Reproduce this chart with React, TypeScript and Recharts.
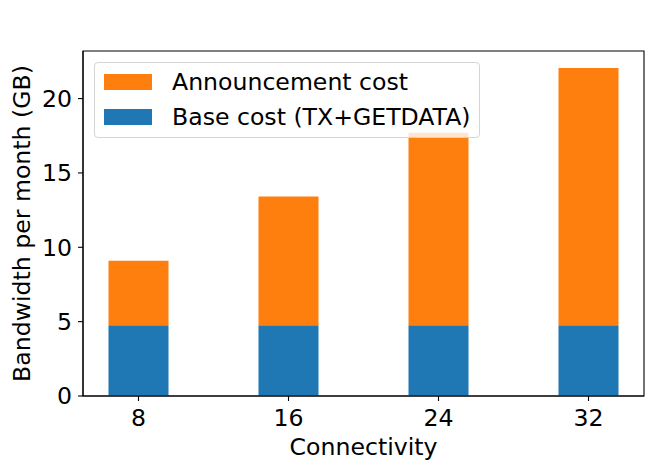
import React from 'react';
import {
  BarChart, Bar, XAxis, YAxis, Legend, ReferenceArea, Label
} from 'recharts';

const connectivity = [8, 16, 24, 32];
const baseCost = [4.75, 4.75, 4.75, 4.75];
const announcementCost = [4.35, 8.66, 12.96, 17.31];
const yTicks = [0, 5, 10, 15, 20];

const chartData = connectivity.map((c, i) => ({
  connectivity: c,
  base: baseCost[i],
  announcement: announcementCost[i],
}));

const FONT = '"DejaVu Sans", sans-serif';
const FS = 23.6;
const X_DOMAIN: [number, number] = [5.04, 34.96];
const Y_DOMAIN: [number, number] = [0, 23.2];

// matplotlib lists the top segment first in the legend
const LegendBox = (props: any) => {
  const items = props.payload || [];
  return (
    <div style={{
      boxSizing: 'border-box', width: 386, height: 76,
      border: '1px solid #d4d4d4', borderRadius: 4,
      background: 'rgba(255,255,255,0.8)',
      padding: '11px 0 0 9px', fontFamily: FONT, fontSize: FS, color: '#000',
    }}>
      {items.map((it: any) => (
        <div key={it.value} style={{ display: 'flex', alignItems: 'center', height: 16, marginBottom: 19 }}>
          <span style={{ display: 'inline-block', width: 48, height: 16, background: it.color, marginRight: 20 }} />
          <span style={{ lineHeight: '16px', whiteSpace: 'nowrap' }}>{it.value}</span>
        </div>
      ))}
    </div>
  );
};

const tickStyle = { fill: '#000', fontSize: FS, fontFamily: FONT };

export default function App() {
  return (
    <div style={{ position: 'absolute', left: 0, top: 0, width: 664, height: 469, background: '#fff' }}>
      <BarChart width={664} height={469} data={chartData}
        margin={{ top: 51, right: 20, bottom: 0, left: 0 }}>
        <XAxis dataKey="connectivity" type="number" domain={X_DOMAIN} ticks={connectivity}
          height={73} tickSize={5} tickMargin={8} interval={0}
          axisLine={{ stroke: '#000', strokeWidth: 1.1 }} tickLine={{ stroke: '#000', strokeWidth: 1.1 }}
          tick={tickStyle}>
          <Label value="Connectivity" position="insideBottom" offset={14}
            style={{ fill: '#000', fontSize: FS, fontFamily: FONT }} />
        </XAxis>
        <YAxis type="number" domain={Y_DOMAIN} ticks={yTicks} width={83} tickSize={5} tickMargin={6}
          axisLine={{ stroke: '#000', strokeWidth: 1.1 }} tickLine={{ stroke: '#000', strokeWidth: 1.1 }}
          tick={tickStyle}>
          <Label content={() => (
            <text x={30} y={223.5} transform="rotate(-90, 30, 223.5)" textAnchor="middle"
              style={{ fill: '#000', fontSize: FS, fontFamily: FONT }}>
              Bandwidth per month (GB)
            </text>
          )} />
        </YAxis>
        <ReferenceArea x1={X_DOMAIN[0]} x2={X_DOMAIN[1]} y1={Y_DOMAIN[0]} y2={Y_DOMAIN[1]}
          fill="none" fillOpacity={0} stroke="#000" strokeWidth={1.1} strokeOpacity={1} />
        <Bar dataKey="base" name="Base cost (TX+GETDATA)" stackId="a" fill="#1f77b4"
          barSize={60} isAnimationActive={false} />
        <Bar dataKey="announcement" name="Announcement cost" stackId="a" fill="#ff7f0e"
          barSize={60} isAnimationActive={false} />
        <Legend layout="vertical" align="center" verticalAlign="middle"
          wrapperStyle={{ left: 94, top: 62, width: 386, height: 76 }}
          content={<LegendBox />} />
      </BarChart>
    </div>
  );
}
